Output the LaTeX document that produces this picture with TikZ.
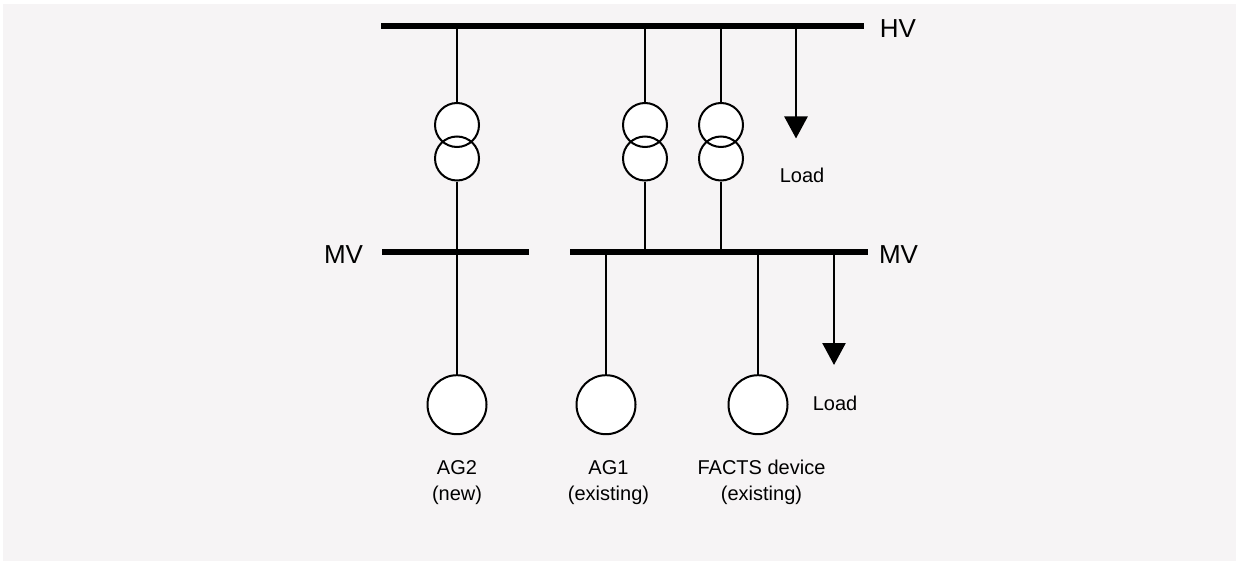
\documentclass[tikz,border=0pt]{standalone}
\usepackage{xcolor}
\usepackage{fontspec}
\setmainfont{Liberation Sans}
\usepackage{tikz}
\usetikzlibrary{shapes,arrows,arrows.meta,positioning,calc,backgrounds}
\definecolor{bgcol}{RGB}{246,244,245}
\tikzset{
bus/.style = {fill=black, rectangle, inner sep=0pt, minimum height=3pt},
wire/.style = {line width=1.3pt},
xfmr/.style = {draw, circle, line width=1pt, inner sep=0pt, minimum size=22pt},
gen/.style = {draw, fill=white, circle, line width=1pt, inner sep=0pt, minimum size=29.5pt},
load/.style = {line width=1.3pt, -{Triangle[width=11.5pt,length=11pt]}},
lbl/.style = {font=\fontsize{10}{13}\selectfont, align=center, inner sep=0pt, anchor=base},
busname/.style = {font=\fontsize{13}{15}\selectfont, inner sep=0pt, anchor=base}
}
\begin{document}
\begin{tikzpicture}[x=0.5pt,y=-0.5pt]
    \useasboundingbox (0,0) rectangle (1236,567);
    \node [bus, minimum width=241.5pt] (hv) at (622.5,25.7) {};
    \node [bus, minimum width=73.5pt] (mvl) at (455.5,252) {};
    \node [bus, minimum width=149pt] (mvr) at (719,252) {};
    \node [busname] (hvname) at (898,37.7) {HV};
    \node [busname] (mvlname) at (343.5,263.3) {MV};
    \node [busname] (mvrname) at (898.5,263.3) {MV};
    \node [xfmr] (tup2) at (457,125) {};
    \node [xfmr] (tlo2) at (457,158.5) {};
    \node [xfmr] (tup1) at (645,125) {};
    \node [xfmr] (tlo1) at (645,158.5) {};
    \node [xfmr] (tupf) at (721,125) {};
    \node [xfmr] (tlof) at (721,158.5) {};
    \begin{scope}[on background layer]
        \fill [bgcol] (3,4) rectangle (1236,561);
        \foreach \t in {tup2,tlo2,tup1,tlo1,tupf,tlof}
            \fill [white] (\t) circle (11pt);
    \end{scope}
    \node [gen] (ag2) at (457,404.7) {};
    \node [gen] (ag1) at (606,404.7) {};
    \node [gen] (facts) at (758,404.7) {};
    \draw [wire] (tup2 |- hv) -- (tup2);
    \draw [wire] (tlo2) -- (ag2);
    \draw [wire] (tup1 |- hv) -- (tup1);
    \draw [wire] (tlo1) -- (tlo1 |- mvr);
    \draw [wire] (tupf |- hv) -- (tupf);
    \draw [wire] (tlof) -- (tlof |- mvr);
    \draw [wire] (ag1 |- mvr) -- (ag1);
    \draw [wire] (facts |- mvr) -- (facts);
    \coordinate (ldhv) at (796,138.5);
    \coordinate (ldmv) at (834,365);
    \draw [load] (ldhv |- hv) -- (ldhv);
    \draw [load] (ldmv |- mvr) -- (ldmv);
    \node [lbl] (ldhvname) at (802,182.7) {Load};
    \node [lbl] (ldmvname) at (835,410.7) {Load};
    \node [lbl] (ag2name) at (457,500.3) {AG2\\(new)};
    \node [lbl] (ag1name) at (608.5,500.3) {AG1\\(existing)};
    \node [lbl] (factsname) at (761.5,500.3) {FACTS device\\(existing)};
\end{tikzpicture}
\end{document}
